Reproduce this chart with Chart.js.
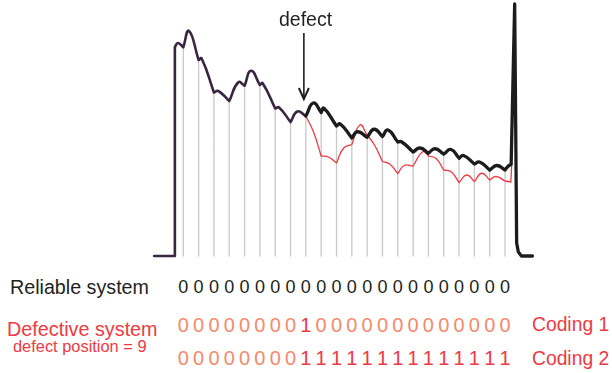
<!DOCTYPE html>
<html>
<head>
<meta charset="utf-8">
<script src="https://cdn.jsdelivr.net/npm/chart.js@4.4.1/dist/chart.umd.min.js"></script>
<style>
  html, body { margin: 0; padding: 0; background: #fff; width: 612px; height: 373px; overflow: hidden; }
  #wrap { position: absolute; left: 0; top: 0; width: 612px; height: 270px; }
  .t { position: absolute; font-family: "Liberation Sans", Arial, sans-serif; white-space: nowrap; line-height: 1; }
</style>
</head>
<body>
<div id="wrap"><canvas id="c" width="612" height="270"></canvas></div>
<div id="labels"></div>
<script>
// Scattering sites along the line; a grey marker stands at each one
const sites = [1, 2, 3, 4, 5, 6, 7, 8, 9, 10, 11, 12, 13, 14, 15, 16, 17, 18, 19, 20, 21, 22];

// Leading edge: baseline, rising edge and the short lobe before site 1
const leadX = [-0.9, 0.45, 0.45];
const leadY = [0, 0, 83.6];
const leadLobeX = [0.45, 0.65, 1];
const leadLobeY = [83.6, 85.2, 83.5];

// Common trace up to the defect site: level at each site and top of each lobe
const commonSiteX = [1, 2, 3, 4, 5, 6, 7, 8, 9];
const commonSiteY = [83.5, 78.4, 65.4, 62.0, 68.1, 68.4, 59.0, 53.6, 56.0];
const commonLobeX = [1.37, 2.2, 3.28, 4.59, 5.42, 6.18, 7.25, 8.45];
const commonLobeY = [90.0, 79.0, 66.0, 69.5, 74.1, 69.1, 59.4, 57.8];

// Reliable system from the defect site on
const afterSiteX = [9, 10, 11, 12, 13, 14, 15, 16, 17, 18, 19, 20, 21, 22];
const reliableSiteY = [56.0, 57.4, 52.0, 47.2, 47.5, 47.8, 45.6, 41.6, 41.1, 40.8, 39.1, 36.8, 34.4, 34.4];
const reliableLobeX = [9.49, 10.18, 11.25, 12.38, 13.46, 14.36, 15.24, 16.45, 17.43, 18.48, 19.29, 20.33, 21.46];
const reliableLobeY = [61.2, 59.1, 52.8, 49.7, 50.7, 50.4, 45.7, 43.2, 42.9, 42.6, 40.2, 37.6, 36.2];
const reliableTailX = [22, 22.22, 22.4];
const reliableTailY = [34.4, 36.0, 36.7];
// End reflection peak and return to baseline
const endPeakX = [22.4, 22.63, 22.76, 22.87, 23.07, 23.79];
const endPeakY = [36.7, 100.8, 5.2, 1.6, 0, 0];

// Defective system from the defect site on
const defectSiteY = [56.0, 40.0, 37.2, 44.6, 48.4, 37.8, 33.0, 36.0, 40.0, 34.4, 29.4, 29.8, 30.4, 30.0];
const defectLobeX = [9.5, 10.47, 11.46, 12.53, 13.48, 14.47, 15.42, 16.64, 17.5, 18.5, 19.5, 20.48, 21.41];
const defectLobeY = [49.6, 39.6, 43.1, 52.4, 44.4, 36.8, 36.2, 41.8, 39.0, 33.6, 32.4, 33.1, 31.8];
const defectTailX = [22, 22.38, 22.44];
const defectTailY = [30.0, 29.6, 36.8];

// Defect marker
const defectSite = 9;
const arrowX = 8.87;
const arrowFrom = 89.2;
const arrowTo = 62.8;

// Code words read at every site
const reliableCode = [0, 0, 0, 0, 0, 0, 0, 0, 0, 0, 0, 0, 0, 0, 0, 0, 0, 0, 0, 0, 0, 0];
const coding1 = [0, 0, 0, 0, 0, 0, 0, 0, 1, 0, 0, 0, 0, 0, 0, 0, 0, 0, 0, 0, 0, 0];
const coding2 = [0, 0, 0, 0, 0, 0, 0, 0, 1, 1, 1, 1, 1, 1, 1, 1, 1, 1, 1, 1, 1, 1];

const C_TEXT = '#231f20';
const C_RED = '#ee3a43';
const C_SALMON = '#f58a6c';

// Lobes: site -> lobe top -> next site, each drawn as its own smooth piece
function lobes(sx, sy, lx, ly, out) {
  for (let i = 0; i < lx.length; i++) {
    out.push({ x: sx[i], y: sy[i] }, { x: lx[i], y: ly[i] }, { x: sx[i + 1], y: sy[i + 1] }, { x: sx[i + 1], y: null });
  }
  return out;
}
// A single lobe given as three points
function lobe(xs, ys, out) {
  out.push({ x: xs[0], y: ys[0] }, { x: xs[1], y: ys[1] }, { x: xs[2], y: ys[2] }, { x: xs[2], y: null });
  return out;
}
// Straight runs, one two-point piece per step so corners stay sharp
function straight(xs, ys, out) {
  for (let i = 0; i < xs.length - 1; i++) {
    out.push({ x: xs[i], y: ys[i] }, { x: xs[i + 1], y: ys[i + 1] }, { x: xs[i + 1], y: null });
  }
  return out;
}

const commonPts = [];
straight(leadX, leadY, commonPts);
lobe(leadLobeX, leadLobeY, commonPts);
lobes(commonSiteX, commonSiteY, commonLobeX, commonLobeY, commonPts);

const reliablePts = [];
lobes(afterSiteX, reliableSiteY, reliableLobeX, reliableLobeY, reliablePts);
lobe(reliableTailX, reliableTailY, reliablePts);
straight(endPeakX, endPeakY, reliablePts);

const defectPts = [];
lobes(afterSiteX, defectSiteY, defectLobeX, defectLobeY, defectPts);
straight(defectTailX, defectTailY, defectPts);

// Grey site markers run from the baseline up to the reliable trace
const siteLevel = sites.map(s => s <= defectSite ? commonSiteY[s - 1] : reliableSiteY[s - defectSite]);
const markerPts = [];
sites.forEach((s, i) => { markerPts.push({ x: s, y: 0 }, { x: s, y: siteLevel[i] }, { x: s, y: null }); });

const lineBase = { fill: false, pointRadius: 0, borderCapStyle: 'round', borderJoinStyle: 'round', clip: false, spanGaps: false };

const arrowPlugin = {
  id: 'defectArrow',
  afterDatasetsDraw(chart) {
    const { ctx, scales } = chart;
    const x = scales.x.getPixelForValue(arrowX);
    const y0 = scales.y.getPixelForValue(arrowFrom);
    const y1 = scales.y.getPixelForValue(arrowTo);
    ctx.save();
    ctx.strokeStyle = C_TEXT;
    ctx.lineWidth = 1.6;
    ctx.beginPath();
    ctx.moveTo(x, y0);
    ctx.lineTo(x, y1);
    ctx.stroke();
    ctx.lineWidth = 2;
    ctx.lineJoin = 'miter';
    ctx.beginPath();
    ctx.moveTo(x - 5, y1 - 11);
    ctx.lineTo(x, y1);
    ctx.lineTo(x + 5, y1 - 11);
    ctx.stroke();
    ctx.restore();
  }
};

const chart = new Chart(document.getElementById('c'), {
  type: 'line',
  data: {
    datasets: [
      Object.assign({ data: reliablePts, borderColor: '#1c1c1c', borderWidth: 3.3, tension: 0.5 }, lineBase),
      Object.assign({ data: commonPts, borderColor: '#3a2641', borderWidth: 2.6, tension: 0.5 }, lineBase),
      Object.assign({ data: defectPts, borderColor: C_RED, borderWidth: 1.3, tension: 0.5 }, lineBase),
      Object.assign({ data: markerPts, borderColor: '#c8c8c8', borderWidth: 1.3, tension: 0, borderCapStyle: 'butt' }, lineBase)
    ]
  },
  options: {
    responsive: false,
    animation: false,
    events: [],
    layout: { padding: { left: 152.66, right: 76.34, top: 1, bottom: 14 } },
    plugins: { legend: { display: false }, tooltip: { enabled: false } },
    scales: {
      x: { type: 'linear', display: false, min: -1, max: 24 },
      y: { type: 'linear', display: false, min: 0, max: 102 }
    }
  },
  plugins: [arrowPlugin]
});

// Text labels, placed by their baseline
const labels = document.getElementById('labels');
function text(str, x, baseline, size, color, align) {
  const el = document.createElement('div');
  el.className = 't';
  el.textContent = str;
  el.style.fontSize = size + 'px';
  el.style.color = color;
  el.style.top = (baseline - 0.8465 * size) + 'px';
  labels.appendChild(el);
  const w = el.getBoundingClientRect().width;
  el.style.left = (align === 'center' ? x - w / 2 : x) + 'px';
  return el;
}

text('defect', 305.5, 26.7, 19.5, C_TEXT, 'center');
text('Reliable system', 10, 295, 19.7, C_TEXT);
text('Defective system', 7, 336.7, 19.8, C_RED);
text('defect position = 9', 13, 351.7, 16.4, C_RED);
text('Coding 1', 532, 331.7, 19.3, C_RED);
text('Coding 2', 532, 365, 19.3, C_RED);

// One code digit under every site
const xs = chart.scales.x;
sites.forEach((s, i) => {
  const px = xs.getPixelForValue(s);
  text(String(reliableCode[i]), px, 293, 18, C_TEXT, 'center');
  text(String(coding1[i]), px, 331.7, 20, coding1[i] ? C_RED : C_SALMON, 'center');
  text(String(coding2[i]), px, 365, 20, coding2[i] ? C_RED : C_SALMON, 'center');
});
</script>
</body>
</html>
